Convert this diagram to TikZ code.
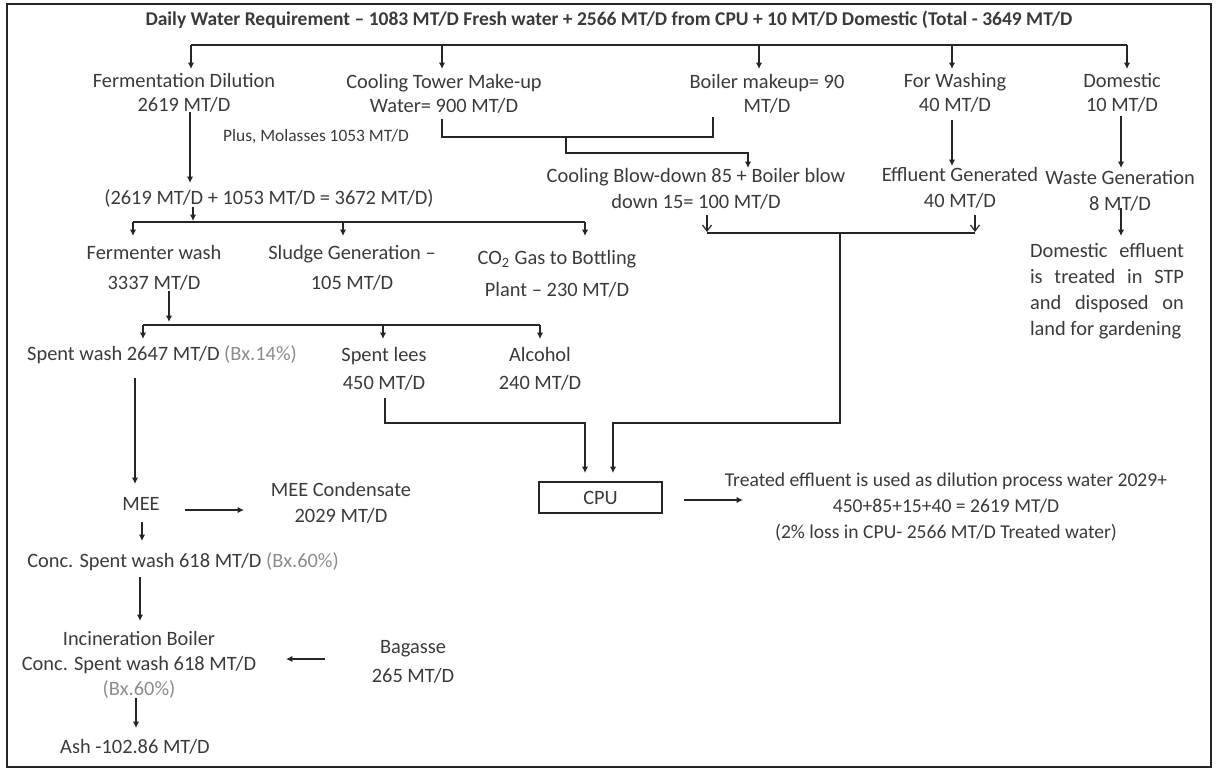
\documentclass[tikz,border=0pt]{standalone}
\usepackage{fontspec}
\setmainfont{Carlito}
\usetikzlibrary{arrows.meta}
\definecolor{ink}{HTML}{3A3A3A}
\definecolor{bxgrey}{HTML}{8C8C8C}
\begin{document}
\begin{tikzpicture}[x=0.5pt,y=-0.5pt,
  txt/.style={inner sep=0pt, align=center, text=ink, font=\fontsize{10.2}{13}\selectfont},
  rowone/.style={txt, font=\fontsize{10.2}{12}\selectfont},
  ln/.style={line width=0.6pt, draw=black!85},
  arr/.style={ln, -{Latex[length=3.2pt,width=3.2pt]}},
  oarr/.style={ln, -{Straight Barb[length=3pt,width=4.5pt]}},
  bx/.style={text=bxgrey}]
\useasboundingbox (0,0) rectangle (1219,770);
\draw[line width=1pt, draw=black!85] (7,4) rectangle (1211,767);

% ---------- texts ----------
\node[txt, font=\fontsize{9.75}{13}\selectfont\bfseries] (title) at (609,20)
  {Daily Water Requirement – 1083 MT/D Fresh water + 2566 MT/D from CPU + 10 MT/D Domestic (Total - 3649 MT/D};
\node[rowone] (ferm) at (184,93) {Fermentation Dilution\\2619 MT/D};
\node[rowone] (cool) at (444,94) {Cooling Tower Make-up\\Water= 900 MT/D};
\node[rowone] (boil) at (767,94) {Boiler makeup= 90\\MT/D};
\node[rowone] (wash) at (955,93) {For Washing\\40 MT/D};
\node[rowone] (dom) at (1122,93) {Domestic\\10 MT/D};
\node[txt, font=\fontsize{8.7}{10}\selectfont] (mol) at (316,137) {Plus, Molasses 1053 MT/D};
\node[txt] (sum) at (269,198) {(2619 MT/D + 1053 MT/D = 3672 MT/D)};
\node[txt] (cbd) at (696,189) {Cooling Blow-down 85 + Boiler blow\\down 15= 100 MT/D};
\node[txt] (eff) at (960,188) {Effluent Generated\\40 MT/D};
\node[txt] (waste) at (1120,191) {Waste Generation\\8 MT/D};
\node[txt, align=left] (domeff) at (1107,291)
  {\makebox[77pt][s]{Domestic effluent}\\\makebox[77pt][s]{is treated in STP}\\\makebox[77pt][s]{and disposed on}\\land for gardening};
\node[txt, font=\fontsize{10.2}{15}\selectfont] (fwash) at (154,268) {Fermenter wash\\3337 MT/D};
\node[txt, font=\fontsize{10.2}{15}\selectfont] (sludge) at (352,268) {Sludge Generation –\\105 MT/D};
\node[txt, font=\fontsize{10.2}{16}\selectfont] (co2) at (557,274) {CO\textsubscript{2} Gas to Bottling\\Plant – 230 MT/D};
\node[txt] (spent) at (162,355) {Spent wash 2647 MT/D {\color{bxgrey}(Bx.14\%)}};
\node[txt, font=\fontsize{10.2}{14}\selectfont] (lees) at (384,369) {Spent lees\\450 MT/D};
\node[txt, font=\fontsize{10.2}{14}\selectfont] (alc) at (540,369) {Alcohol\\240 MT/D};
\node[txt] (mee) at (141,504) {MEE};
\node[txt] (meec) at (341,503) {MEE Condensate\\2029 MT/D};
\node[txt] (conc) at (183,562) {Conc. Spent wash 618 MT/D {\color{bxgrey}(Bx.60\%)}};
\node[txt, font=\fontsize{10.2}{12.5}\selectfont] (incin) at (139,665) {Incineration Boiler\\Conc. Spent wash 618 MT/D\\{\color{bxgrey}(Bx.60\%)}};
\node[txt] (ash) at (135,747) {Ash -102.86 MT/D};
\node[txt, font=\fontsize{10.2}{14.5}\selectfont] (bag) at (413,662) {Bagasse\\265 MT/D};
\node[draw=black!85, line width=0.6pt, minimum width=61.5pt, minimum height=15.5pt, inner sep=0pt, text=ink, font=\fontsize{10.2}{13}\selectfont] (cpu) at (600.5,497.5) {CPU};
\node[txt, font=\fontsize{9.8}{13.2}\selectfont] (treat) at (946,507) {Treated effluent is used as dilution process water 2029+\\450+85+15+40 = 2619 MT/D\\(2\% loss in CPU- 2566 MT/D Treated water)};

% ---------- coordinates ----------
\coordinate (b1) at (191,45);  \coordinate (b2) at (442,45);
\coordinate (b3) at (759,45);  \coordinate (b4) at (952,45);
\coordinate (b5) at (1127,45);
\coordinate (t1) at (191,69);  \coordinate (t2) at (442,69);
\coordinate (t3) at (759,69);  \coordinate (t4) at (952,69);
\coordinate (t5) at (1127,69);
% fermentation
\coordinate (f1) at (190,112); \coordinate (f2) at (190,183);
% cooling / boiler
\coordinate (c1) at (442,119); \coordinate (c2) at (442,137);
\coordinate (c3) at (713,137); \coordinate (c4) at (713,117);
\coordinate (c5) at (566,137); \coordinate (c6) at (566,153);
\coordinate (c7) at (748,153); \coordinate (c8) at (748,168);
% sum to bus 2
\coordinate (s1) at (193,207); \coordinate (s2) at (193,221);
\coordinate (d1) at (133,222); \coordinate (d2) at (343,222); \coordinate (d3) at (585,222);
\coordinate (e1) at (133,236); \coordinate (e2) at (343,236); \coordinate (e3) at (585,236);
% fermenter wash to bus 3
\coordinate (g1) at (169,291); \coordinate (g2) at (169,322);
\coordinate (h1) at (143,325); \coordinate (h2) at (383,325); \coordinate (h3) at (540,325);
\coordinate (k1) at (143,339); \coordinate (k2) at (383,339); \coordinate (k3) at (540,339);
% washing / domestic
\coordinate (w1) at (952,120); \coordinate (w2) at (952,166);
\coordinate (m1) at (1121,116); \coordinate (m2) at (1121,168);
\coordinate (m3) at (1121,208); \coordinate (m4) at (1121,236);
% open arrows and effluent collector
\coordinate (o1) at (707,215); \coordinate (o2) at (707,232);
\coordinate (o3) at (975,215); \coordinate (o4) at (975,232);
\coordinate (j1) at (840,233); \coordinate (j2) at (840,423);
\coordinate (j3) at (613,423); \coordinate (j4) at (613,473);
% spent lees
\coordinate (l1) at (385,398); \coordinate (l2) at (385,423);
\coordinate (l3) at (585,423); \coordinate (l4) at (585,473);
% left column
\coordinate (p1) at (135,378); \coordinate (p2) at (135,484);
\coordinate (q1) at (185,510); \coordinate (q2) at (244,510);
\coordinate (r1) at (142,522); \coordinate (r2) at (142,541);
\coordinate (u1) at (140,577); \coordinate (u2) at (140,621);
\coordinate (v1) at (325,659); \coordinate (v2) at (286,659);
\coordinate (a1) at (136,698); \coordinate (a2) at (136,728);
\coordinate (z1) at (684,500); \coordinate (z2) at (743,500);

% ---------- connectors ----------
\draw[ln] (b1) -- (b5);
\foreach \i in {1,...,5} { \draw[arr] (b\i) -- (t\i); }
\draw[arr] (f1) -- (f2);
\draw[ln] (c1) -- (c2) -- (c3) -- (c4);
\draw[arr] (c5) -- (c6) -- (c7) -- (c8);
\draw[arr] (s1) -- (s2);
\draw[ln] (d1) -- (d3);
\foreach \i in {1,2,3} { \draw[arr] (d\i) -- (e\i); }
\draw[arr] (g1) -- (g2);
\draw[ln] (h1) -- (h3);
\foreach \i in {1,2,3} { \draw[arr] (h\i) -- (k\i); }
\draw[arr] (w1) -- (w2);
\draw[arr] (m1) -- (m2);
\draw[arr] (m3) -- (m4);
\draw[oarr] (o1) -- (o2);
\draw[oarr] (o3) -- (o4);
\draw[ln] (o2 |- j1) -- (o4 |- j1);
\draw[arr] (j1) -- (j2) -- (j3) -- (j4);
\draw[arr] (l1) -- (l2) -- (l3) -- (l4);
\draw[arr] (p1) -- (p2);
\draw[arr] (q1) -- (q2);
\draw[arr] (r1) -- (r2);
\draw[arr] (u1) -- (u2);
\draw[arr] (v1) -- (v2);
\draw[arr] (a1) -- (a2);
\draw[arr] (z1) -- (z2);
\end{tikzpicture}
\end{document}
